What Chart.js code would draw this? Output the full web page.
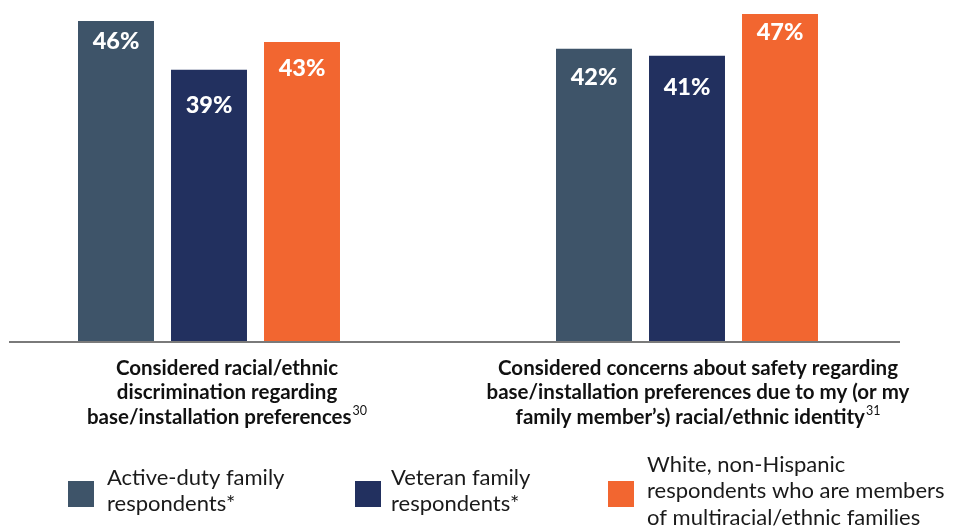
<!DOCTYPE html>
<html>
<head>
<meta charset="utf-8">
<script src="https://cdn.jsdelivr.net/npm/chart.js@4.4.1/dist/chart.umd.min.js"></script>
<style>
  html, body { margin: 0; padding: 0; background: #ffffff; overflow: hidden; width: 954px; height: 529px; }
  #wrap { position: absolute; left: -30px; top: 0; width: 986px; height: 529px; }
</style>
</head>
<body>
<div id="wrap"><canvas id="chart" width="986" height="529"></canvas></div>
<script>
// Category labels (one entry per text line) and their footnote markers
const categories = [
  ['Considered racial/ethnic', 'discrimination regarding', 'base/installation preferences'],
  ['Considered concerns about safety regarding', 'base/installation preferences due to my (or my', 'family member\u2019s) racial/ethnic identity']
];
const footnotes = ['30', '31'];

// Series names (legend lines) and values in percent
const seriesNames = [
  ['Active-duty family', 'respondents*'],
  ['Veteran family', 'respondents*'],
  ['White, non-Hispanic', 'respondents who are members', 'of multiracial/ethnic families']
];
const activeDuty = [46, 42];
const veteran = [39, 41];
const whiteMultiracial = [43, 47];

const colors = ['#3e5469', '#22305f', '#f26630'];
const FONT = 'Lato, "Noto Sans", sans-serif';
// the canvas starts 30px left of the page edge so the groups land where wanted
const CANVAS_SHIFT = 30;

// Percent labels inside the top of each bar; taller bars keep the label closer to the top
const valueLabels = {
  id: 'valueLabels',
  afterDatasetsDraw(chart) {
    const ctx = chart.ctx;
    ctx.save();
    ctx.fillStyle = '#ffffff';
    ctx.font = '900 23.5px ' + FONT;
    ctx.textAlign = 'center';
    ctx.textBaseline = 'middle';
    chart.data.datasets.forEach((ds, di) => {
      chart.getDatasetMeta(di).data.forEach((bar, i) => {
        const h = bar.base - bar.y;
        ctx.fillText(ds.data[i] + '%', bar.x, bar.y + 119 - 0.307 * h);
      });
    });
    ctx.restore();
  }
};

// Baseline, category captions with superscript notes, and the legend
const decorations = {
  id: 'decorations',
  afterDraw(chart, args, opts) {
    const ctx = chart.ctx;
    const xs = chart.scales.x;
    const base = chart.chartArea.bottom;
    ctx.save();
    ctx.translate(CANVAS_SHIFT, 0);

    // baseline
    ctx.strokeStyle = '#7a7a7a';
    ctx.lineWidth = 2;
    ctx.beginPath();
    ctx.moveTo(9, base);
    ctx.lineTo(900, base);
    ctx.stroke();

    // category captions
    ctx.fillStyle = '#111111';
    ctx.textBaseline = 'middle';
    ctx.textAlign = 'left';
    categories.forEach((lines, i) => {
      const cx = xs.getPixelForValue(i) - CANVAS_SHIFT + opts.captionShift[i];
      lines.forEach((line, li) => {
        const y = base + 26 + li * 24.5;
        ctx.font = 'bold 20.5px ' + FONT;
        const w = ctx.measureText(line).width;
        let ws = 0;
        const last = li === lines.length - 1;
        if (last) {
          ctx.font = '12.5px ' + FONT;
          ws = ctx.measureText(footnotes[i]).width + 1;
        }
        const x0 = cx - (w + ws) / 2;
        ctx.font = 'bold 20.5px ' + FONT;
        ctx.fillText(line, x0, y);
        if (last) {
          ctx.font = '12.5px ' + FONT;
          ctx.fillText(footnotes[i], x0 + w + 1, y - 6);
        }
      });
    });

    // legend
    const boxX = [68, 355, 608];
    const textX = [107, 391, 647];
    const boxMid = 494;
    const textMid = 491;
    const lh = 26.5;
    ctx.font = '22px ' + FONT;
    seriesNames.forEach((lines, i) => {
      ctx.fillStyle = colors[i];
      ctx.fillRect(boxX[i], boxMid - 13, 26, 26);
      ctx.fillStyle = '#1a1a1a';
      const top = textMid - (lines.length - 1) * lh / 2;
      lines.forEach((line, li) => {
        ctx.fillText(line, textX[i], top + li * lh);
      });
    });
    ctx.restore();
  }
};

function draw() {
  new Chart(document.getElementById('chart'), {
    type: 'bar',
    data: {
      labels: categories.map(c => c.join(' ')),
      datasets: [
        { label: seriesNames[0].join(' '), data: activeDuty, backgroundColor: colors[0] },
        { label: seriesNames[1].join(' '), data: veteran, backgroundColor: colors[1] },
        { label: seriesNames[2].join(' '), data: whiteMultiracial, backgroundColor: colors[2] }
      ]
    },
    options: {
      responsive: false,
      animation: false,
      layout: { padding: { left: 0, right: 30, top: 0, bottom: 187 } },
      datasets: { bar: { categoryPercentage: 0.5837, barPercentage: 0.817 } },
      scales: {
        x: { display: false },
        y: { display: false, min: 0, max: 49 }
      },
      plugins: {
        legend: { display: false },
        tooltip: { enabled: false },
        decorations: { captionShift: [18, 11] }
      }
    },
    plugins: [valueLabels, decorations]
  });
}

Promise.all([
  document.fonts.load('bold 20px Lato'),
  document.fonts.load('900 20px Lato'),
  document.fonts.load('22px Lato')
]).then(draw, draw);
</script>
</body>
</html>
